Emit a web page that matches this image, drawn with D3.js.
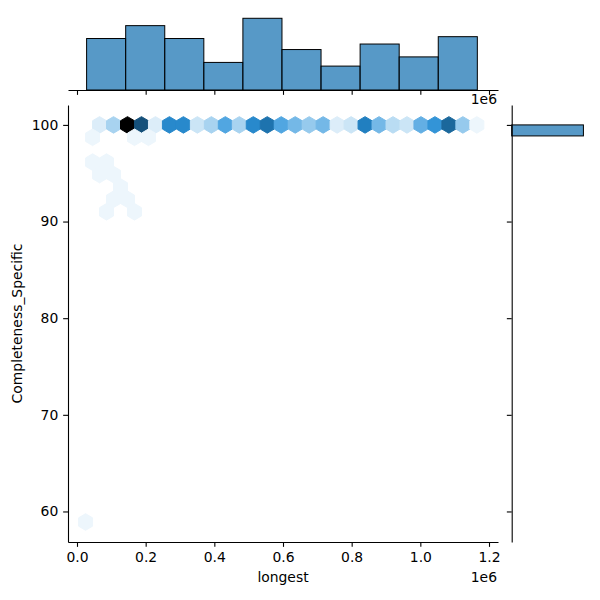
<!DOCTYPE html>
<html>
<head>
<meta charset="utf-8">
<script src="https://cdnjs.cloudflare.com/ajax/libs/d3/7.8.5/d3.min.js"></script>
<style>
  body { margin: 0; background: #fff; }
  svg text { font-family: "DejaVu Sans", sans-serif; fill: #000; }
</style>
</head>
<body>
<div class="container"></div>
<script>
// hexbin cells: centre of each hexagon and number of points in it
const hexLongest = [
  65700, 106400, 147100, 187800, 228500, 269200, 309900, 350600, 391300, 432000,
  472700, 513400, 554100, 594800, 635500, 676200, 716900, 757600, 798300, 839000,
  879700, 920400, 961100, 1001800, 1042500, 1083200, 1123900, 1164600,
  45350, 167450, 208150,
  45350, 86050,
  65700, 106400,
  126750,
  106400, 147100,
  86050, 167450,
  25000
];
const hexCompleteness = [
  100, 100, 100, 100, 100, 100, 100, 100, 100, 100,
  100, 100, 100, 100, 100, 100, 100, 100, 100, 100,
  100, 100, 100, 100, 100, 100, 100, 100,
  98.72, 98.72, 98.72,
  96.15, 96.15,
  94.86, 94.86,
  93.58,
  92.30, 92.30,
  91.01, 91.01,
  58.91
];
const hexCount = [
  2, 5, 25, 18, 2, 13, 13, 3, 5, 10,
  5, 13, 15, 10, 8, 6, 8, 2, 3, 14,
  8, 4, 3, 9, 12, 16, 6, 1,
  1, 1, 1,
  1, 1,
  1, 1,
  1,
  1, 1,
  1, 1,
  1
];
// hexagon grid step (matplotlib hexbin sx, sy)
const hexStepX = 40700;
const hexStepY = 2.568;

// marginal histograms
const histXEdges = [28000, 141800, 255600, 369400, 483200, 597000, 710800, 824600, 938400, 1052200, 1166000];
const histXCounts = [28, 35, 28, 15, 39, 22, 13, 25, 18, 29];
const histYEdges = [98.86, 100];
const histYCounts = [239];

const xTicks = [0, 200000, 400000, 600000, 800000, 1000000, 1200000];
const yTicks = [60, 70, 80, 90, 100];

const w = 600;
const h = 600;
const fontSize = 13.9;
const tick = 4.86;

const svg = d3.select(".container")
  .append("svg")
  .attr("width", w)
  .attr("height", h);

const xScale = d3.scaleLinear().domain([-26200, 1226200]).range([68, 498]);
const yScale = d3.scaleLinear().domain([56.84, 102.06]).range([542, 105]);

// colormap like seaborn: C0 hue, lightness 1 -> 0 in 12 steps
const base = d3.hsl("#1f77b4");
const vmax = d3.max(hexCount);
const stops = d3.range(12).map(k => d3.hsl(base.h, base.s, 1 - k / 11).formatRgb());
const color = d3.scaleLinear()
  .domain(d3.range(12).map(k => k / 11 * vmax))
  .range(stops)
  .interpolate(d3.interpolateRgb);

const hexShape = [[0.5, -0.5], [0.5, 0.5], [0, 1], [-0.5, 0.5], [-0.5, -0.5], [0, -1]];
const hexes = hexLongest.map((d, i) => ({ x: d, y: hexCompleteness[i], n: hexCount[i] }));

svg.append("g")
  .selectAll("path")
  .data(hexes)
  .enter()
  .append("path")
  .attr("d", d => "M" + hexShape.map(p =>
      [xScale(d.x + p[0] * hexStepX), yScale(d.y + p[1] * hexStepY / 3)].join(",")).join("L") + "Z")
  .attr("fill", d => color(d.n))
  .attr("stroke", d => color(d.n))
  .attr("stroke-width", 1);

function styleAxis(g) {
  g.selectAll(".domain").attr("stroke-width", 1.1);
  g.selectAll(".tick line").attr("stroke-width", 1.1);
  g.selectAll("text").style("font-size", fontSize + "px").style("font-family", "DejaVu Sans");
}

// main axes
svg.append("g")
  .attr("transform", "translate(0,542)")
  .call(d3.axisBottom(xScale).tickValues(xTicks).tickSize(tick).tickSizeOuter(0).tickPadding(4.86)
    .tickFormat(d => (d / 1e6).toFixed(1)))
  .call(styleAxis);

svg.append("g")
  .attr("transform", "translate(68,0)")
  .call(d3.axisLeft(yScale).tickValues(yTicks).tickSize(tick).tickSizeOuter(0).tickPadding(4.86))
  .call(styleAxis);

svg.append("text")
  .attr("x", 283)
  .attr("y", 577)
  .attr("text-anchor", "middle")
  .attr("dominant-baseline", "central")
  .style("font-size", fontSize + "px")
  .text("longest");

svg.append("text")
  .attr("transform", "translate(17,323.5) rotate(-90)")
  .attr("text-anchor", "middle")
  .attr("dominant-baseline", "central")
  .style("font-size", fontSize + "px")
  .text("Completeness_Specific");

svg.append("text")
  .attr("x", 497)
  .attr("y", 577)
  .attr("text-anchor", "end")
  .attr("dominant-baseline", "central")
  .style("font-size", fontSize + "px")
  .text("1e6");

// top marginal
const yTop = d3.scaleLinear().domain([0, d3.max(histXCounts) * 1.05]).range([90, 14.7]);
svg.append("g")
  .selectAll("rect")
  .data(histXCounts)
  .enter()
  .append("rect")
  .attr("x", (d, i) => xScale(histXEdges[i]))
  .attr("width", (d, i) => xScale(histXEdges[i + 1]) - xScale(histXEdges[i]))
  .attr("y", d => yTop(d))
  .attr("height", d => yTop(0) - yTop(d))
  .attr("fill", "rgba(31,119,180,0.75)")
  .attr("stroke", "#000")
  .attr("stroke-width", 1);

svg.append("g")
  .attr("transform", "translate(0,90)")
  .call(d3.axisBottom(xScale).tickValues(xTicks).tickSize(tick).tickSizeOuter(0).tickFormat(""))
  .call(styleAxis);

svg.append("text")
  .attr("x", 497)
  .attr("y", 99)
  .attr("text-anchor", "end")
  .attr("dominant-baseline", "central")
  .style("font-size", fontSize + "px")
  .text("1e6");

// right marginal
const xRight = d3.scaleLinear().domain([0, d3.max(histYCounts) * 1.05]).range([511.7, 587]);
svg.append("g")
  .selectAll("rect")
  .data(histYCounts)
  .enter()
  .append("rect")
  .attr("x", xRight(0))
  .attr("width", d => xRight(d) - xRight(0))
  .attr("y", (d, i) => yScale(histYEdges[i + 1]))
  .attr("height", (d, i) => yScale(histYEdges[i]) - yScale(histYEdges[i + 1]))
  .attr("fill", "rgba(31,119,180,0.75)")
  .attr("stroke", "#000")
  .attr("stroke-width", 1);

svg.append("g")
  .attr("transform", "translate(511.7,0)")
  .call(d3.axisLeft(yScale).tickValues(yTicks).tickSize(tick).tickSizeOuter(0).tickFormat(""))
  .call(styleAxis);
</script>
</body>
</html>
